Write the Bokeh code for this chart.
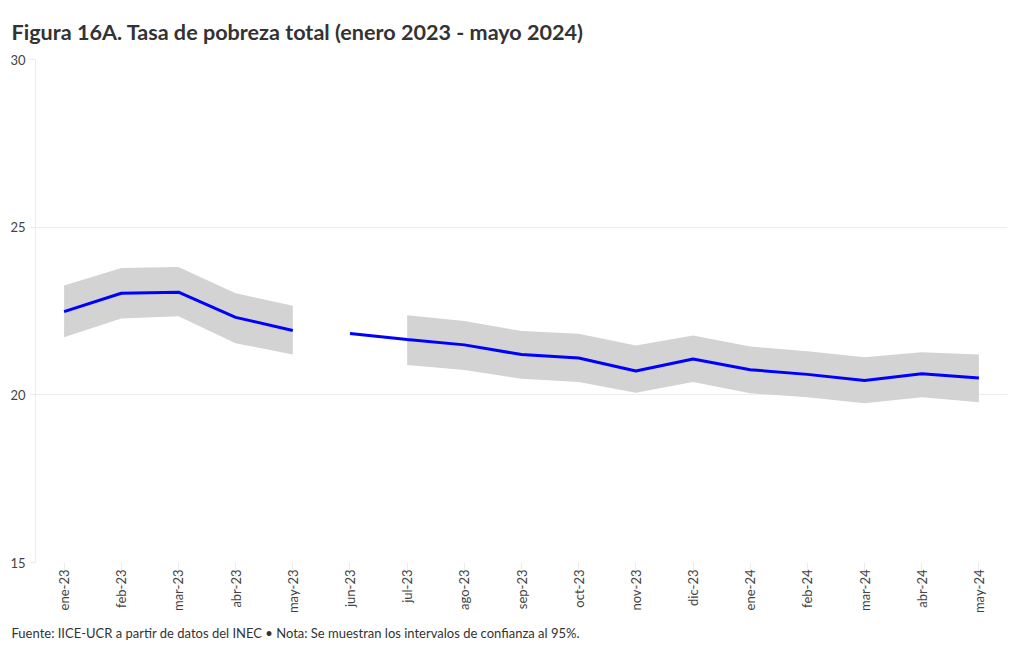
from bokeh.plotting import figure
from bokeh.models import Range1d, FixedTicker, Title, ColumnDataSource
from bokeh.embed import file_html
from bokeh.resources import INLINE
import math

meses = ["ene-23", "feb-23", "mar-23", "abr-23", "may-23", "jun-23", "jul-23", "ago-23",
         "sep-23", "oct-23", "nov-23", "dic-23", "ene-24", "feb-24", "mar-24", "abr-24", "may-24"]
pobreza = [22.48, 23.03, 23.06, 22.31, 21.92, 21.83, 21.65, 21.49, 21.20, 21.10, 20.71,
           21.07, 20.75, 20.61, 20.43, 20.63, 20.50]
limite_inf = [21.72, 22.28, 22.34, 21.54, 21.20, None, 20.89, 20.74, 20.48, 20.38, 20.06,
              20.38, 20.05, 19.93, 19.75, 19.93, 19.78]
limite_sup = [23.26, 23.78, 23.81, 23.03, 22.66, None, 22.37, 22.20, 21.90, 21.82, 21.47,
              21.77, 21.44, 21.30, 21.12, 21.27, 21.20]

FONT = "Lato"
TXT = "#444444"

p = figure(width=1012, height=647, output_backend="svg", toolbar_location=None,
           x_range=Range1d(-0.5, 16.5), y_range=Range1d(15, 30),
           min_border_left=35, min_border_right=5, min_border_top=59, min_border_bottom=80)
p.outline_line_color = None
p.background_fill_color = "white"

idx = list(range(len(meses)))

# bands (gap where no interval)
segs_band = [(0, 5), (6, 17)]
for a, b in segs_band:
    src = ColumnDataSource(dict(x=idx[a:b], lo=limite_inf[a:b], hi=limite_sup[a:b]))
    p.varea(x="x", y1="lo", y2="hi", source=src, fill_color="#d3d3d3", fill_alpha=1.0)

segs_line = [(0, 5), (5, 17)]
for a, b in segs_line:
    src = ColumnDataSource(dict(x=idx[a:b], y=pobreza[a:b]))
    p.line(x="x", y="y", source=src, line_color="#0000ff", line_width=3)

# axes
xa = p.xaxis[0]
xa.ticker = FixedTicker(ticks=idx)
xa.major_label_overrides = {i: m for i, m in enumerate(meses)}
xa.major_label_orientation = math.pi / 2
xa.axis_line_color = None
xa.major_tick_out = 43
xa.major_tick_in = 0
xa.major_tick_line_color = "#ececec"
xa.major_label_standoff = -36
xa.minor_tick_line_color = None
xa.major_label_text_font = FONT
xa.major_label_text_font_size = "13px"
xa.major_label_text_color = TXT

ya = p.yaxis[0]
ya.ticker = FixedTicker(ticks=[15, 20, 25, 30])
ya.axis_line_color = "#ececec"
ya.major_tick_out = 6
ya.major_tick_in = 0
ya.major_tick_line_color = "#ececec"
ya.minor_tick_line_color = None
ya.major_label_standoff = 4
ya.major_label_text_font = FONT
ya.major_label_text_font_size = "13px"
ya.major_label_text_color = TXT

p.xgrid.grid_line_color = None
p.ygrid.grid_line_color = "#ececec"
p.ygrid.ticker = FixedTicker(ticks=[15, 20, 25, 30])

p.title.text = "Figura 16A. Tasa de pobreza total (enero 2023 - mayo 2024)"
p.title.text_font = FONT
p.title.text_font_size = "21.6px"
p.title.text_font_style = "bold"
p.title.text_color = "#333333"
p.title.offset = -24
p.title.standoff = 30

foot = Title(text="Fuente: IICE-UCR a partir de datos del INEC \u2022 Nota: Se muestran los intervalos de confianza al 95%.",
             text_font=FONT, text_font_size="13px", text_font_style="normal",
             text_color="#333333", offset=-24, standoff=13)
p.add_layout(foot, "below")

open("out.html", "w").write(file_html(p, INLINE))
